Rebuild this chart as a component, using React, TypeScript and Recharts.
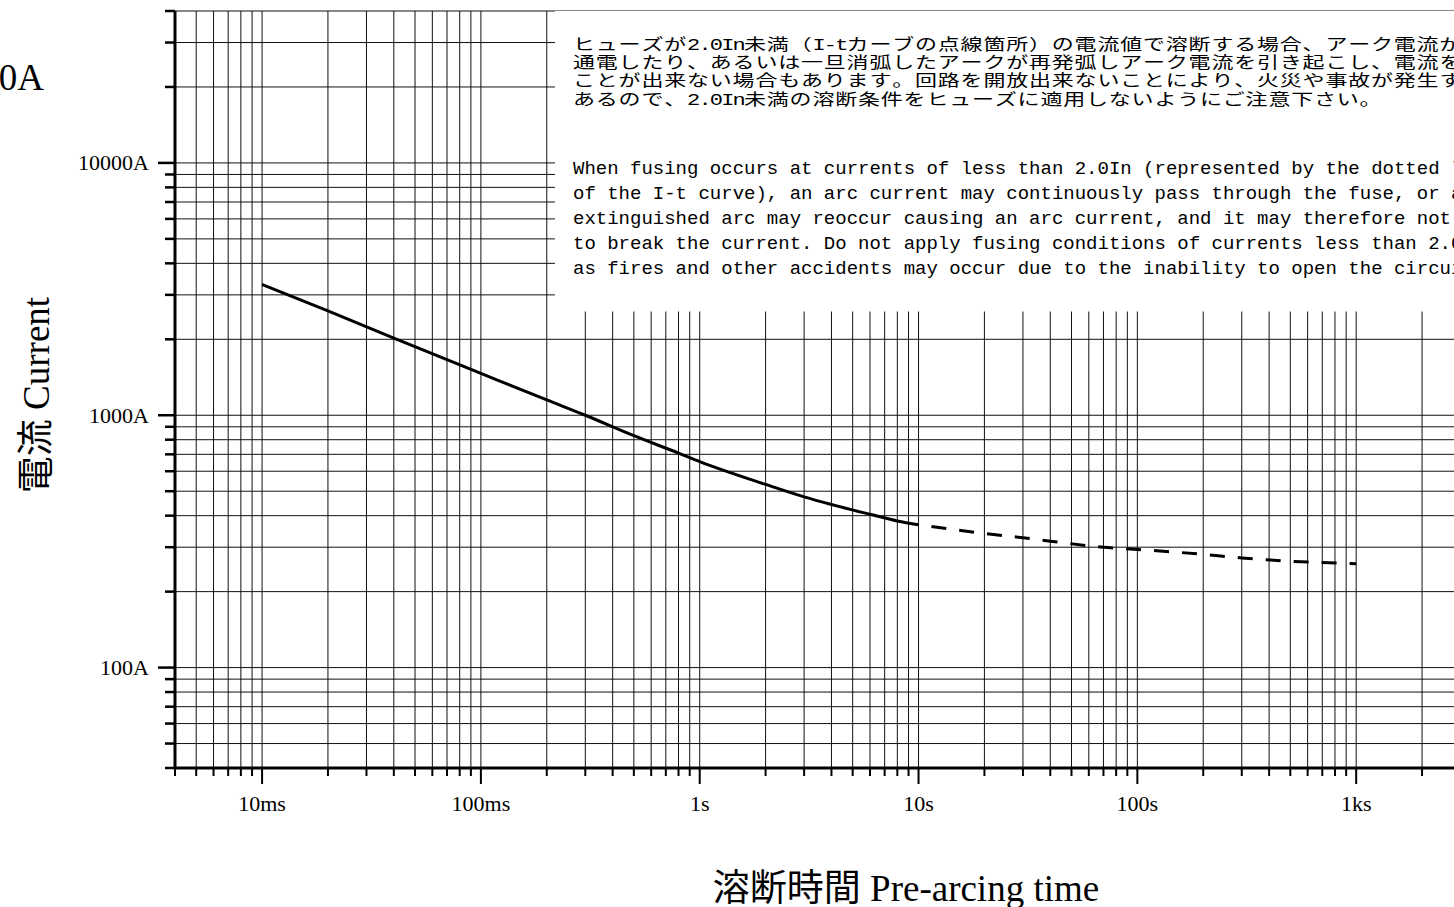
import { LineChart, Line, XAxis, YAxis, CartesianGrid, ReferenceArea } from "recharts";

// ── Pre-arcing time / current curve (log-log) ───────────────────────────────
// solid part: >= 2.0In, dashed part: < 2.0In
const SOLID_TIME = [0.01, 0.02, 0.04, 0.1, 0.2, 0.3, 0.5, 0.8, 1, 2, 3, 4, 6, 8, 10];
const SOLID_CURRENT = [3300, 2590, 2020, 1465, 1150, 1000, 830, 708, 655, 532, 475, 443, 405, 381, 368];
const DASHED_TIME = [10, 20, 30, 40, 70, 100, 200, 300, 500, 1000];
const DASHED_CURRENT = [368, 340, 327, 317, 300, 294, 281, 272, 264, 258];

// ── Axes ────────────────────────────────────────────────────────────────────
const TIME_DOMAIN = [0.004, 10000];
const TIME_MAJOR = [0.01, 0.1, 1, 10, 100, 1000, 10000];
const TIME_LABELS = ["10ms", "100ms", "1s", "10s", "100s", "1ks", ""];
const TIME_FIRST_MINOR = [0.004, 0.005, 0.006, 0.007, 0.008, 0.009];

const CURRENT_DOMAIN = [40, 40000];
const CURRENT_MAJOR = [100, 1000, 10000];
const CURRENT_LABELS = ["100A", "1000A", "10000A"];
const CURRENT_FIRST_MINOR = [40, 50, 60, 70, 80, 90];

const MANTISSAS = [2, 3, 4, 5, 6, 7, 8, 9];

// note box corner (time, current) — white panel over the grid
const NOTE_FROM_TIME = 0.218;
const NOTE_FROM_CURRENT = 2580;

const NOTE_JA = [
  "ヒューズが2.0In未満（I-tカーブの点線箇所）の電流値で溶断する場合、アーク電流が継続して",
  "通電したり、あるいは一旦消弧したアークが再発弧しアーク電流を引き起こし、電流を遮断する",
  "ことが出来ない場合もあります。回路を開放出来ないことにより、火災や事故が発生する恐れが",
  "あるので、2.0In未満の溶断条件をヒューズに適用しないようにご注意下さい。",
];
const NOTE_EN = [
  "When fusing occurs at currents of less than 2.0In (represented by the dotted line",
  "of the I-t curve), an arc current may continuously pass through the fuse, or an",
  "extinguished arc may reoccur causing an arc current, and it may therefore not be possible",
  "to break the current. Do not apply fusing conditions of currents less than 2.0In to fuses,",
  "as fires and other accidents may occur due to the inability to open the circuit.",
];

// ── Built for the library ───────────────────────────────────────────────────
const solidData = SOLID_TIME.map((t, k) => ({ t, i: SOLID_CURRENT[k] }));
const dashedData = DASHED_TIME.map((t, k) => ({ t, i: DASHED_CURRENT[k] }));

const decadeTicks = (majors: number[], first: number[], max: number) =>
  [
    ...first,
    ...majors.flatMap((d) => [d, ...MANTISSAS.map((m) => +(d * m).toPrecision(3))]),
  ].filter((v) => v <= max);

const TIME_TICKS = decadeTicks(TIME_MAJOR, TIME_FIRST_MINOR, TIME_DOMAIN[1]);
const CURRENT_TICKS = decadeTicks(CURRENT_MAJOR, CURRENT_FIRST_MINOR, CURRENT_DOMAIN[1]);

const TICK_FONT = "'Liberation Serif', serif";
const TITLE_FONT = "'Liberation Serif', 'Noto Sans CJK JP', serif";
const NOTE_FONT = "'Liberation Mono', 'Noto Sans CJK JP', monospace";
const CELL = 11.4; // half-width cell of the note text

function TimeTick({ x, y, payload }: any) {
  const k = TIME_MAJOR.indexOf(payload.value);
  return (
    <g>
      <line x1={x} y1={y} x2={x} y2={y + (k >= 0 ? 16 : 8)} stroke="#000" strokeWidth={2} />
      {k >= 0 && TIME_LABELS[k] && (
        <text x={x} y={811} textAnchor="middle" fontFamily={TICK_FONT} fontSize={22} fill="#000">
          {TIME_LABELS[k]}
        </text>
      )}
    </g>
  );
}

function CurrentTick({ x, y, payload }: any) {
  const k = CURRENT_MAJOR.indexOf(payload.value);
  return (
    <g>
      <line x1={x - (k >= 0 ? 17 : 10)} y1={y} x2={x} y2={y} stroke="#000" strokeWidth={2.5} />
      {k >= 0 && (
        <text
          x={149}
          y={y}
          textAnchor="end"
          dominantBaseline="central"
          fontFamily={TICK_FONT}
          fontSize={22}
          fill="#000"
        >
          {CURRENT_LABELS[k]}
        </text>
      )}
    </g>
  );
}

// x positions for a monospaced mixed-width line (full-width = 2 cells)
function cellXs(line: string) {
  const xs: number[] = [];
  let pos = 0;
  for (const ch of line) {
    xs.push(+(pos * CELL).toFixed(1));
    pos += ch.charCodeAt(0) > 0xff ? 2 : 1;
  }
  return xs.join(" ");
}

export default function App() {
  return (
    <div
      style={{
        position: "absolute",
        left: 0,
        top: 0,
        width: 1454,
        height: 907,
        overflow: "hidden",
        background: "#fff",
      }}
    >
      <LineChart width={1595} height={907} margin={{ top: 11, right: 20, bottom: 0, left: 0 }}>
        <CartesianGrid stroke="#111" strokeWidth={1} />
        <XAxis
          dataKey="t"
          type="number"
          scale="log"
          domain={TIME_DOMAIN}
          allowDataOverflow
          ticks={TIME_TICKS}
          interval={0}
          height={139}
          tickSize={0}
          tickMargin={0}
          tickLine={false}
          axisLine={{ stroke: "#000", strokeWidth: 3 }}
          tick={(p: any) => <TimeTick {...p} />}
        />
        <YAxis
          dataKey="i"
          type="number"
          scale="log"
          domain={CURRENT_DOMAIN}
          allowDataOverflow
          ticks={CURRENT_TICKS}
          interval={0}
          width={175}
          tickSize={0}
          tickMargin={0}
          tickLine={false}
          axisLine={{ stroke: "#000", strokeWidth: 3 }}
          tick={(p: any) => <CurrentTick {...p} />}
        />
        <ReferenceArea
          x1={NOTE_FROM_TIME}
          x2={TIME_DOMAIN[1]}
          y1={NOTE_FROM_CURRENT}
          y2={CURRENT_DOMAIN[1]}
          fill="#fff"
          fillOpacity={1}
          stroke="none"
        />
        <Line
          data={solidData}
          dataKey="i"
          type="monotone"
          stroke="#000"
          strokeWidth={3}
          dot={false}
          activeDot={false}
          isAnimationActive={false}
        />
        <Line
          data={dashedData}
          dataKey="i"
          type="monotone"
          stroke="#000"
          strokeWidth={3}
          strokeDasharray="0 13 15 0"
          dot={false}
          activeDot={false}
          isAnimationActive={false}
        />
      </LineChart>

      <svg
        width={1454}
        height={907}
        style={{ position: "absolute", left: 0, top: 0, pointerEvents: "none" }}
      >
        <text x={44} y={90} textAnchor="end" fontFamily={TITLE_FONT} fontSize={37} fill="#000">
          0A
        </text>
        <text
          transform="translate(49, 395) rotate(-90)"
          textAnchor="middle"
          fontFamily={TITLE_FONT}
          fontSize={37}
          fill="#000"
        >
          電流 Current
        </text>
        <text x={906} y={901} textAnchor="middle" fontFamily={TITLE_FONT} fontSize={37} fill="#000">
          溶断時間 Pre-arcing time
        </text>

        {NOTE_JA.map((line, k) => (
          <text
            key={line}
            transform={`translate(573, ${49.5 + k * 18.4}) scale(1, 0.72)`}
            x={cellXs(line)}
            y={0}
            fontFamily={NOTE_FONT}
            fontSize={22}
            fill="#000"
          >
            {line}
          </text>
        ))}
        {NOTE_EN.map((line, k) => (
          <text
            key={line}
            x={573}
            y={174 + k * 25}
            fontFamily="'Liberation Mono', monospace"
            fontSize={19}
            fill="#000"
            style={{ whiteSpace: "pre" }}
          >
            {line}
          </text>
        ))}
      </svg>
    </div>
  );
}
